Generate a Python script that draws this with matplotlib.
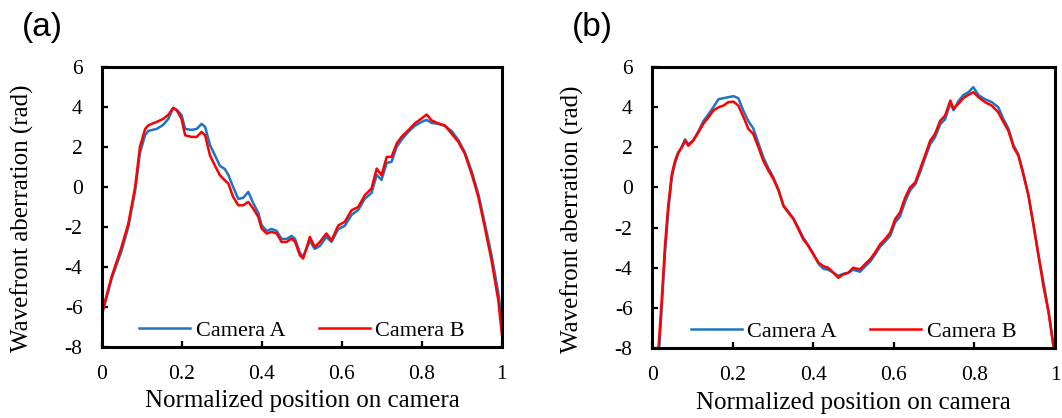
import matplotlib
matplotlib.use('Agg')
import matplotlib.pyplot as plt

plt.rcParams['font.family'] = ['Liberation Serif', 'DejaVu Serif']
plt.rcParams['axes.unicode_minus'] = False

# panel (a): values
xa = [0, 0.024, 0.049, 0.066, 0.083, 0.095, 0.108, 0.116, 0.137, 0.153,
      0.166, 0.178, 0.187, 0.199, 0.208, 0.224, 0.237, 0.249, 0.258, 0.27,
      0.282, 0.295, 0.307, 0.316, 0.328, 0.341, 0.353, 0.366, 0.378, 0.391,
      0.399, 0.412, 0.424, 0.437, 0.449, 0.462, 0.474, 0.483, 0.495, 0.503,
      0.52, 0.532, 0.545, 0.561, 0.574, 0.591, 0.607, 0.624, 0.641, 0.657,
      0.674, 0.687, 0.699, 0.712, 0.724, 0.737, 0.749, 0.766, 0.782, 0.799,
      0.812, 0.824, 0.841, 0.857, 0.874, 0.891, 0.907, 0.924, 0.941, 0.957,
      0.974, 0.991, 1.0]
ya_cam_a = [-6.4, -4.6, -3.2, -2.0, -0.2, 1.7, 2.6, 2.8, 2.9, 3.1,
            3.4, 3.95, 3.85, 3.6, 2.9, 2.85, 2.9, 3.15, 3.0, 2.1,
            1.6, 1.05, 0.9, 0.6, 0.0, -0.6, -0.55, -0.25, -0.8, -1.3,
            -1.9, -2.2, -2.1, -2.2, -2.6, -2.6, -2.45, -2.6, -3.3, -3.5,
            -2.7, -3.1, -2.95, -2.5, -2.75, -2.1, -1.95, -1.4, -1.15, -0.6,
            -0.3, 0.6, 0.35, 1.2, 1.25, 2.0, 2.35, 2.75, 3.05, 3.25,
            3.35, 3.2, 3.15, 3.05, 2.8, 2.35, 1.75, 0.8, -0.35, -1.8,
            -3.4, -5.3, -6.7]
ya_cam_b = [-6.3, -4.5, -3.0, -1.83, 0.0, 2.0, 2.9, 3.08, 3.25, 3.4,
            3.6, 3.95, 3.83, 3.4, 2.58, 2.5, 2.5, 2.75, 2.58, 1.58,
            1.08, 0.58, 0.33, 0.17, -0.5, -0.92, -0.92, -0.75, -1.08, -1.5,
            -2.08, -2.33, -2.25, -2.33, -2.75, -2.75, -2.58, -2.75, -3.42, -3.58,
            -2.5, -3.0, -2.75, -2.33, -2.67, -1.92, -1.75, -1.17, -1.0, -0.42,
            -0.08, 0.92, 0.58, 1.5, 1.5, 2.17, 2.5, 2.83, 3.17, 3.42,
            3.62, 3.33, 3.17, 3.08, 2.67, 2.25, 1.67, 0.67, -0.5, -2.0,
            -3.67, -5.67, -7.4]

# panel (b)
xb = [0.016, 0.024, 0.032, 0.040, 0.049, 0.057, 0.065, 0.074, 0.082, 0.090,
      0.102, 0.115, 0.127, 0.140, 0.152, 0.165, 0.177, 0.189, 0.202, 0.214,
      0.227, 0.239, 0.251, 0.264, 0.276, 0.289, 0.301, 0.314, 0.326, 0.338,
      0.351, 0.363, 0.375, 0.388, 0.400, 0.413, 0.425, 0.437, 0.450, 0.462,
      0.475, 0.487, 0.499, 0.516, 0.528, 0.541, 0.553, 0.566, 0.578, 0.591,
      0.603, 0.615, 0.628, 0.640, 0.653, 0.665, 0.677, 0.690, 0.702, 0.715,
      0.727, 0.740, 0.748, 0.760, 0.772, 0.785, 0.797, 0.810, 0.826, 0.843,
      0.859, 0.872, 0.884, 0.897, 0.909, 0.922, 0.934, 0.946, 0.959, 0.971,
      0.984, 0.996]
yb_cam_a = [-8.6, -6.0, -3.3, -1.2, 0.5, 1.2, 1.7, 2.05, 2.4, 2.15,
            2.35, 2.8, 3.3, 3.65, 4.0, 4.4, 4.45, 4.5, 4.55, 4.45,
            3.8, 3.3, 2.95, 2.2, 1.5, 0.95, 0.5, -0.1, -0.9, -1.2,
            -1.55, -2.0, -2.5, -2.9, -3.3, -3.8, -4.05, -4.1, -4.25, -4.4,
            -4.3, -4.25, -4.1, -4.2, -3.95, -3.7, -3.35, -2.95, -2.7, -2.4,
            -1.75, -1.45, -0.7, -0.15, 0.15, 0.75, 1.45, 2.15, 2.5, 3.15,
            3.4, 4.2, 3.85, 4.3, 4.6, 4.75, 5.0, 4.6, 4.4, 4.25,
            4.0, 3.4, 2.95, 2.1, 1.65, 0.65, -0.4, -1.8, -3.4, -4.7,
            -6.2, -7.9]
yb_cam_b = [-8.0, -5.58, -2.92, -0.92, 0.67, 1.33, 1.75, 2.0, 2.33, 2.08,
            2.33, 2.75, 3.17, 3.5, 3.83, 4.0, 4.08, 4.25, 4.28, 4.08,
            3.5, 2.92, 2.67, 2.0, 1.33, 0.83, 0.42, -0.17, -0.92, -1.25,
            -1.58, -2.08, -2.58, -2.92, -3.33, -3.75, -3.92, -4.0, -4.25, -4.5,
            -4.33, -4.25, -4.0, -4.08, -3.83, -3.58, -3.25, -2.83, -2.58, -2.25,
            -1.58, -1.25, -0.5, 0.0, 0.25, 0.92, 1.58, 2.33, 2.67, 3.33,
            3.58, 4.33, 3.92, 4.17, 4.45, 4.62, 4.75, 4.5, 4.25, 4.08,
            3.75, 3.25, 2.83, 2.0, 1.58, 0.58, -0.42, -1.83, -3.42, -4.92,
            -6.25, -7.92]

series_names = ['Camera A', 'Camera B']
panel_labels = ['(a)', '(b)']
xticks = [0, 0.2, 0.4, 0.6, 0.8, 1]
xtick_labels = ['0', '0.2', '0.4', '0.6', '0.8', '1']
yticks = [-8, -6, -4, -2, 0, 2, 4, 6]

BLUE = '#1f74c4'
RED = '#ff0000'

fig = plt.figure(figsize=(10.62, 4.18), dpi=100)
ax_a = fig.add_axes([0.096, 0.170, 0.3766, 0.670])
ax_b = fig.add_axes([0.614, 0.1675, 0.3795, 0.672])

panels = [(ax_a, xa, ya_cam_a, ya_cam_b), (ax_b, xb, yb_cam_a, yb_cam_b)]
for i, (ax, x, y_a, y_b) in enumerate(panels):
    ax.plot(x, y_a, color=BLUE, lw=1.8, label=series_names[0])
    ax.plot(x, y_b, color=RED, lw=1.8, label=series_names[1])

    ax.set_xlim(0, 1)
    ax.set_ylim(-8, 6)
    ax.set_xticks(xticks, xtick_labels)
    ax.set_yticks(yticks)
    for s in ax.spines.values():
        s.set_linewidth(2.2)
    ax.tick_params(axis='both', direction='in', length=4, width=1.6,
                   labelsize=15.5)
    ax.tick_params(axis='x', pad=13)
    ax.tick_params(axis='y', pad=14)

    ax.set_xlabel('Normalized position on camera', fontsize=18, va='top')
    ax.xaxis.set_label_coords(0.5, -0.155)
    ax.set_ylabel('Wavefront aberration (rad)', fontsize=18)
    ax.yaxis.set_label_coords(-0.17, 0.46)

    ax.legend(loc='center', bbox_to_anchor=(0.5, 0.058), ncol=2, frameon=False,
              fontsize=16, handlelength=2.3, handletextpad=0.25,
              columnspacing=1.5, borderaxespad=0)

    ax.text(-0.2, 1.14, panel_labels[i], transform=ax.transAxes,
            fontsize=24, family=['Liberation Sans', 'DejaVu Sans'],
            ha='left', va='center')

fig.savefig('out.png', dpi=100)
